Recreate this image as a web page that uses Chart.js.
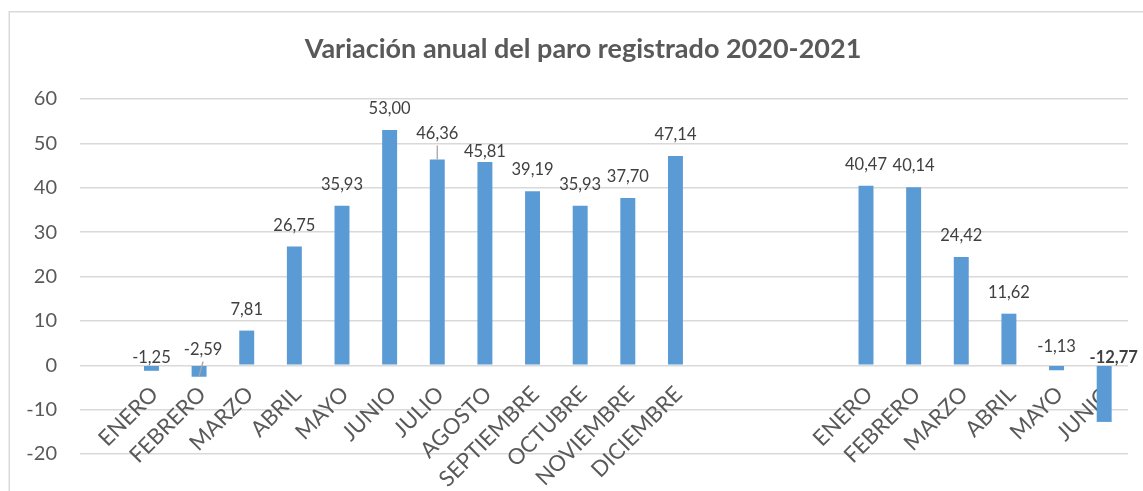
<!DOCTYPE html>
<html>
<head>
<meta charset="utf-8">
<script src="https://cdn.jsdelivr.net/npm/chart.js@4.4.0/dist/chart.umd.min.js"></script>
<style>
  body { margin: 0; background: #ffffff; }
  #contenedor { position: relative; width: 1143px; height: 491px; }
</style>
</head>
<body>
<div id="contenedor">
  <canvas id="grafico"></canvas>
</div>
<script>
// meses (con huecos vacios como en el original)
const meses = ['', 'ENERO', 'FEBRERO', 'MARZO', 'ABRIL', 'MAYO', 'JUNIO', 'JULIO', 'AGOSTO',
  'SEPTIEMBRE', 'OCTUBRE', 'NOVIEMBRE', 'DICIEMBRE', '', '', '',
  'ENERO', 'FEBRERO', 'MARZO', 'ABRIL', 'MAYO', 'JUNIO'];

// variacion anual del paro (%)
const variacion = [null, -1.25, -2.59, 7.81, 26.75, 35.93, 53.00, 46.36, 45.81,
  39.19, 35.93, 37.70, 47.14, null, null, null,
  40.47, 40.14, 24.42, 11.62, -1.13, -12.77];

const ejeMin = -20;
const ejeMax = 60;
const ejePaso = 10;

const titulo = 'Variación anual del paro registrado 2020-2021';

// ajustes de las etiquetas de datos (px)
const ajusteY = [0, 13, 4.5, 0, 0, 0, 0, -5, 11, 0, 0, 0, 0, 0, 0, 0, 0, 0, 0, 0, 2, 12.5];
const ajusteX = [0, 0, 4, 0, 0, 0, 0, 0, 0, 0, 0, 0, 0, 0, 0, 0, 0, 0, 0, 0, 0, 9.5];
const conGuia = [2, 7];
const enNegrita = [21];

const fuente = 'Lato, "Open Sans", sans-serif';

// marco gris y titulo
const marco = {
  id: 'marco',
  beforeDraw(chart) {
    const ctx = chart.ctx;
    ctx.save();
    ctx.fillStyle = '#ffffff';
    ctx.fillRect(0, 0, chart.width, chart.height);
    ctx.strokeStyle = '#d9d9d9';
    ctx.lineWidth = 1.5;
    ctx.strokeRect(9.25, 11.75, chart.width + 50, chart.height + 50);
    ctx.font = 'bold 27px ' + fuente;
    ctx.fillStyle = '#595959';
    ctx.textAlign = 'center';
    ctx.textBaseline = 'alphabetic';
    ctx.fillText(titulo, 583, 57.5);
    ctx.restore();
  }
};

const etiquetas = {
  id: 'etiquetas',
  afterDatasetsDraw(chart) {
    const ctx = chart.ctx;
    const meta = chart.getDatasetMeta(0);
    ctx.save();
    ctx.textAlign = 'center';
    ctx.textBaseline = 'alphabetic';
    meta.data.forEach((barra, i) => {
      const v = variacion[i];
      if (v === null) return;
      const arriba = Math.min(barra.y, barra.base);
      const cy = arriba - 22 + ajusteY[i];
      const cx = barra.x + ajusteX[i];
      ctx.font = (enNegrita.includes(i) ? 'bold ' : '') + '16.5px ' + fuente;
      ctx.fillStyle = '#404040';
      ctx.fillText(v.toFixed(2).replace('.', ','), cx, cy + 6);
      if (conGuia.includes(i)) {
        ctx.strokeStyle = '#a6a6a6';
        ctx.lineWidth = 1.3;
        ctx.beginPath();
        ctx.moveTo(cx, cy + 13);
        ctx.lineTo(barra.x, v >= 0 ? barra.y : barra.y - 1);
        ctx.stroke();
      }
    });
    ctx.restore();
  }
};

new Chart(document.getElementById('grafico'), {
  type: 'bar',
  data: {
    labels: meses,
    datasets: [{
      data: variacion,
      backgroundColor: '#5b9bd5',
      borderWidth: 0,
      barPercentage: 0.314,
      categoryPercentage: 1
    }]
  },
  options: {
    responsive: true,
    maintainAspectRatio: false,
    animation: false,
    layout: { padding: { left: 0, right: 15, top: 99, bottom: 37 } },
    plugins: {
      legend: { display: false },
      tooltip: { enabled: false },
      title: { display: false }
    },
    scales: {
      x: {
        position: { y: 0 },
        grid: { display: false, drawTicks: false },
        border: { display: false },
        ticks: {
          color: '#595959',
          font: { family: fuente, size: 22 },
          minRotation: 45,
          maxRotation: 45,
          autoSkip: false,
          padding: 16,
          labelOffset: 3
        }
      },
      y: {
        min: ejeMin,
        max: ejeMax,
        afterFit(escala) { escala.width = 80; },
        grid: { color: '#d9d9d9', lineWidth: 1.5, drawTicks: false },
        border: { display: false },
        ticks: {
          stepSize: ejePaso,
          color: '#595959',
          font: { family: fuente, size: 20 },
          padding: 23
        }
      }
    }
  },
  plugins: [marco, etiquetas]
});
</script>
</body>
</html>
